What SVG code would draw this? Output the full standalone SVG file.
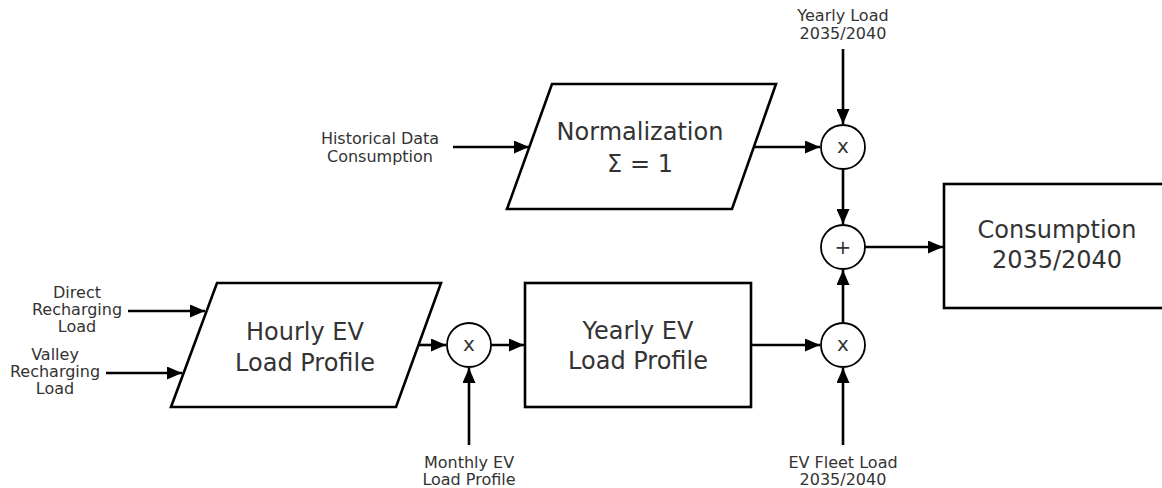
<svg xmlns="http://www.w3.org/2000/svg" width="1162" height="488" viewBox="0 0 1162 488">
  <style>
    .shape { fill: #ffffff; stroke: #000000; stroke-width: 2.6; }
    .op { fill: #ffffff; stroke: #000000; stroke-width: 1.8; }
    .wire { fill: none; stroke: #000000; stroke-width: 2.6; marker-end: url(#arrow); }
    .big { font-family: "DejaVu Sans", Verdana, sans-serif; font-size: 24px; fill: #333333; text-anchor: middle; }
    .small { font-family: "DejaVu Sans", Verdana, sans-serif; font-size: 16px; fill: #333333; text-anchor: middle; }
    .sym { font-family: "DejaVu Sans", Verdana, sans-serif; font-size: 20px; fill: #333333; text-anchor: middle; }
  </style>
  <defs>
    <marker id="arrow" markerUnits="userSpaceOnUse" markerWidth="15" markerHeight="13" refX="15" refY="6.5" orient="auto">
      <path d="M0,0 L15,6.5 L0,13 z" fill="#000000"/>
    </marker>
  </defs>
  <rect width="1162" height="488" fill="#ffffff"/>

  <g id="connectors">
    <line class="wire" x1="453" y1="147" x2="529" y2="147"/>
    <line class="wire" x1="754" y1="147" x2="820" y2="147"/>
    <line class="wire" x1="843" y1="49" x2="843" y2="124"/>
    <line class="wire" x1="843" y1="169" x2="843" y2="224"/>
    <line class="wire" x1="843" y1="323" x2="843" y2="270"/>
    <line class="wire" x1="865" y1="247" x2="943" y2="247"/>
    <line class="wire" x1="751" y1="345" x2="820" y2="345"/>
    <line class="wire" x1="843" y1="445" x2="843" y2="368"/>
    <line class="wire" x1="128" y1="311" x2="205" y2="311"/>
    <line class="wire" x1="106" y1="373" x2="182" y2="373"/>
    <line class="wire" x1="419" y1="345" x2="446" y2="345"/>
    <line class="wire" x1="491" y1="345" x2="524" y2="345"/>
    <line class="wire" x1="469" y1="445" x2="469" y2="368"/>
  </g>

  <g id="normalization">
    <polygon class="shape" points="552,84 776,84 732,209 507,209"/>
    <text class="big" x="640" y="140">Normalization</text>
    <text class="big" x="640" y="172">Σ = 1</text>
  </g>

  <g id="hourly-ev">
    <polygon class="shape" points="217,283 441,283 396,407 171,407"/>
    <text class="big" x="305" y="340">Hourly EV</text>
    <text class="big" x="305" y="371">Load Profile</text>
  </g>

  <g id="yearly-ev">
    <rect class="shape" x="525" y="283" width="226" height="124"/>
    <text class="big" x="638" y="339">Yearly EV</text>
    <text class="big" x="638" y="369">Load Profile</text>
  </g>

  <g id="consumption">
    <rect class="shape" x="944" y="184" width="240" height="124"/>
    <text class="big" x="1057" y="238">Consumption</text>
    <text class="big" x="1057" y="268">2035/2040</text>
  </g>

  <g id="mult-top">
    <circle class="op" cx="843" cy="147" r="22"/>
    <text class="sym" x="843" y="153">x</text>
  </g>

  <g id="sum">
    <circle class="op" cx="843" cy="247" r="22"/>
    <text class="sym" x="843" y="254">+</text>
  </g>

  <g id="mult-right">
    <circle class="op" cx="843" cy="345" r="22"/>
    <text class="sym" x="843" y="351">x</text>
  </g>

  <g id="mult-left">
    <circle class="op" cx="469" cy="345" r="22"/>
    <text class="sym" x="469" y="351">x</text>
  </g>

  <g id="labels">
    <text class="small" x="380" y="144">Historical Data</text>
    <text class="small" x="380" y="162">Consumption</text>
    <text class="small" x="843" y="21">Yearly Load</text>
    <text class="small" x="843" y="39">2035/2040</text>
    <text class="small" x="77" y="298">Direct</text>
    <text class="small" x="77" y="315">Recharging</text>
    <text class="small" x="77" y="332">Load</text>
    <text class="small" x="55" y="360">Valley</text>
    <text class="small" x="55" y="377">Recharging</text>
    <text class="small" x="55" y="394">Load</text>
    <text class="small" x="469" y="468">Monthly EV</text>
    <text class="small" x="469" y="485">Load Profile</text>
    <text class="small" x="843" y="468">EV Fleet Load</text>
    <text class="small" x="843" y="485">2035/2040</text>
  </g>
</svg>
